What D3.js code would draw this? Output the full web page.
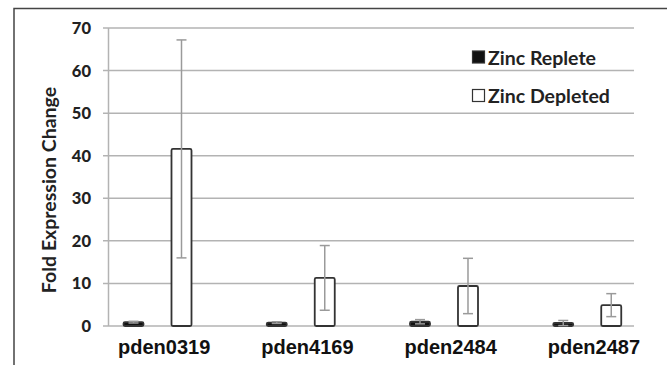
<!DOCTYPE html>
<html><head><meta charset="utf-8">
<script src="https://cdn.jsdelivr.net/npm/d3@7"></script>
<style>body{margin:0;background:#fff;} svg{display:block;}</style>
</head><body>
<svg id="c" width="667" height="365"></svg>
<script>
const categories = ["pden0319", "pden4169", "pden2484", "pden2487"];
const seriesNames = ["Zinc Replete", "Zinc Depleted"];
const repleteValues = [0.9, 0.8, 1.0, 0.7];
const repleteErrors = [0.2, 0.2, 0.5, 0.6];
const depletedValues = [41.6, 11.3, 9.4, 4.9];
const depletedErrors = [25.6, 7.6, 6.5, 2.7];
const yTicks = [0, 10, 20, 30, 40, 50, 60, 70];

const svg = d3.select("#c");
const y = d3.scaleLinear().domain([0, 70]).range([326, 28]);
const x = d3.scaleBand().domain(categories).range([85.5, 658.5]);
const xs = d3.scaleBand().domain(seriesNames).range([24, 120]).paddingInner(0.583).paddingOuter(0.2917);

// frame
svg.append("path").attr("d", "M14,365 V8.5 H667").attr("fill", "none").attr("stroke", "#444").attr("stroke-width", 1.5);

// gridlines
svg.append("g").selectAll("line").data(yTicks).join("line")
  .attr("x1", 103).attr("x2", 634)
  .attr("y1", d => y(d)).attr("y2", d => y(d))
  .attr("stroke", "#b3b3b3").attr("stroke-width", 1.5);
// y axis line
svg.append("line").attr("x1", 108.5).attr("x2", 108.5).attr("y1", y(70)).attr("y2", y(0))
  .attr("stroke", "#b3b3b3").attr("stroke-width", 1.5);

// y tick labels
svg.append("g").selectAll("text").data(yTicks).join("text")
  .attr("x", 91).attr("y", d => y(d)).attr("dy", "0.36em")
  .attr("text-anchor", "end")
  .attr("font-family", "Lato, sans-serif").attr("font-weight", "900").attr("font-size", 16.5)
  .attr("fill", "#222").text(d => d);

// y axis title
svg.append("text")
  .attr("transform", "translate(56,190) rotate(-90)")
  .attr("text-anchor", "middle")
  .attr("font-family", "Lato, sans-serif").attr("font-weight", "bold").attr("font-size", 19.5)
  .attr("fill", "#222").text("Fold Expression Change");

const rows = [];
categories.forEach((c, i) => {
  rows.push({cat: c, s: seriesNames[0], v: repleteValues[i], e: repleteErrors[i]});
  rows.push({cat: c, s: seriesNames[1], v: depletedValues[i], e: depletedErrors[i]});
});
const cx = d => x(d.cat) + xs(d.s) + xs.bandwidth() / 2;

// bars
svg.append("g").selectAll("rect").data(rows).join("rect")
  .attr("x", d => x(d.cat) + xs(d.s))
  .attr("width", xs.bandwidth())
  .attr("y", d => y(d.v))
  .attr("height", d => y(0) - y(d.v))
  .attr("rx", 1.5)
  .attr("fill", d => d.s === seriesNames[0] ? "#111" : "#fff")
  .attr("stroke", "#333").attr("stroke-width", 1.8);

// error bars
const eg = svg.append("g").attr("stroke", "#9a9a9a").attr("stroke-width", 1.5);
eg.selectAll("line.v").data(rows).join("line").attr("class", "v")
  .attr("x1", cx).attr("x2", cx)
  .attr("y1", d => y(d.v + d.e)).attr("y2", d => y(Math.max(0, d.v - d.e)));
eg.selectAll("line.t").data(rows).join("line").attr("class", "t")
  .attr("x1", d => cx(d) - 5).attr("x2", d => cx(d) + 5)
  .attr("y1", d => y(d.v + d.e)).attr("y2", d => y(d.v + d.e));
eg.selectAll("line.b").data(rows).join("line").attr("class", "b")
  .attr("x1", d => cx(d) - 5).attr("x2", d => cx(d) + 5)
  .attr("y1", d => y(Math.max(0, d.v - d.e))).attr("y2", d => y(Math.max(0, d.v - d.e)));

// x labels
svg.append("g").selectAll("text").data(categories).join("text")
  .attr("x", d => x(d) + x.bandwidth() / 2 + 7).attr("y", 354)
  .attr("text-anchor", "middle")
  .attr("font-family", "'Liberation Sans', Arial, sans-serif").attr("font-weight", "bold").attr("font-size", 20)
  .attr("fill", "#111").text(d => d);

// legend
const lg = svg.append("g");
seriesNames.forEach((s, i) => {
  const ly = 57.5 + i * 38.5;
  lg.append("rect").attr("x", 472.5).attr("y", ly - 6.5).attr("width", 12).attr("height", 12)
    .attr("fill", i === 0 ? "#111" : "#fff").attr("stroke", "#333").attr("stroke-width", 1.2);
  lg.append("text").attr("x", 488).attr("y", ly).attr("dy", "0.36em")
    .attr("font-family", "Lato, sans-serif").attr("font-weight", "bold").attr("font-size", 19.5)
    .attr("fill", "#222").text(s);
});
</script>
</body></html>
